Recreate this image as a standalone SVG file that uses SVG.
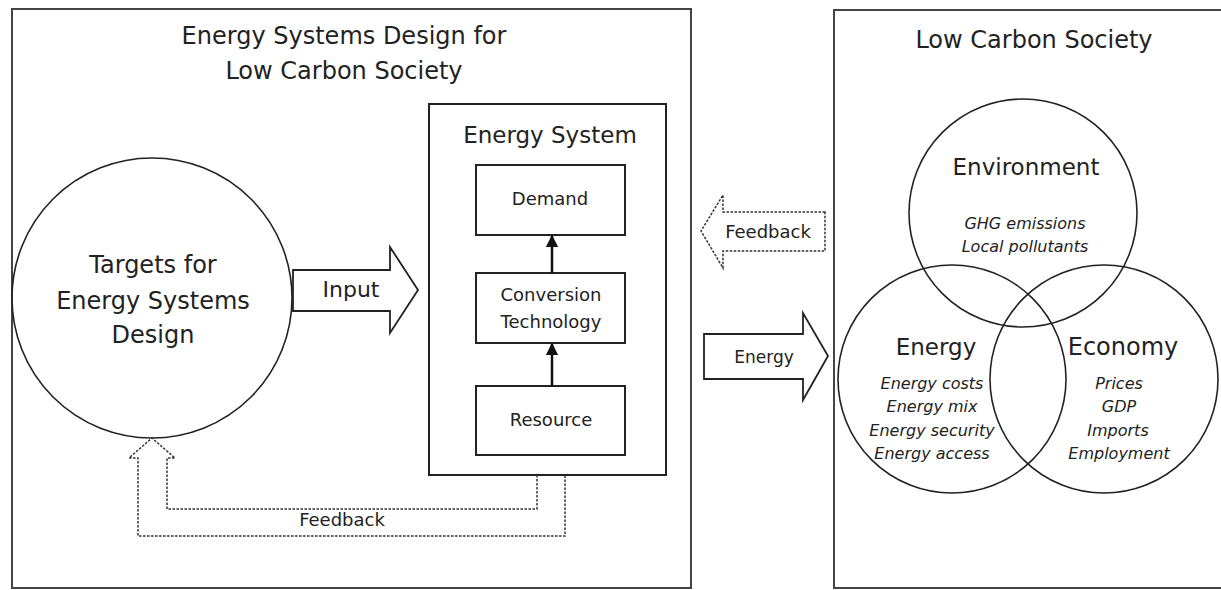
<svg xmlns="http://www.w3.org/2000/svg" width="1221" height="590" viewBox="0 0 1221 590">
<style>
  text { font-family: "DejaVu Sans", "Liberation Sans", sans-serif; fill: #222; text-anchor: middle; }
  .panel { fill: none; stroke: #444; stroke-width: 2; }
  .box { fill: #fff; stroke: #222; stroke-width: 2; }
  .circ { fill: none; stroke: #222; stroke-width: 1.6; }
  .big { font-size: 24px; }
  .title { font-size: 24px; }
  .lbl { font-size: 18px; }
  .it { font-size: 16px; font-style: italic; }
  .blk { fill: #fff; stroke: #222; stroke-width: 1.8; stroke-linejoin: miter; }
  .dash { fill: none; stroke: #333; stroke-width: 1.5; stroke-dasharray: 2.5 1.5; }
  .conn { stroke: #111; stroke-width: 2.5; fill: none; }
</style>
<defs>
  <marker id="ah" viewBox="0 0 10 10" refX="9" refY="5" markerWidth="5" markerHeight="5" orient="auto" markerUnits="strokeWidth">
    <path d="M0,0 L10,5 L0,10 Z" fill="#111"/>
  </marker>
</defs>
<rect width="1221" height="590" fill="#fff"/>

<g id="left-panel">
  <rect class="panel" x="12" y="9" width="679" height="579"/>
  <text class="title" x="344" y="44">Energy Systems Design for</text>
  <text class="title" x="344" y="79">Low Carbon Society</text>
</g>

<g id="right-panel">
  <rect class="panel" x="834" y="10" width="400" height="578"/>
  <text class="title" x="1034" y="48">Low Carbon Society</text>
</g>

<g id="targets">
  <circle class="circ" cx="152" cy="298" r="140"/>
  <text class="big" x="153" y="273">Targets for</text>
  <text class="big" x="153" y="309">Energy Systems</text>
  <text class="big" x="153" y="343">Design</text>
</g>

<g id="energy-system">
  <rect class="box" x="429" y="104" width="237" height="371"/>
  <text class="big" x="550" y="143" style="font-size:23px">Energy System</text>
</g>

<g id="demand">
  <rect class="box" x="476" y="165" width="149" height="70"/>
  <text class="lbl" x="550" y="205">Demand</text>
</g>

<g id="conversion">
  <rect class="box" x="476" y="273" width="149" height="70"/>
  <text class="lbl" x="551" y="301">Conversion</text>
  <text class="lbl" x="551" y="328">Technology</text>
</g>

<g id="resource">
  <rect class="box" x="476" y="386" width="149" height="69"/>
  <text class="lbl" x="551" y="426">Resource</text>
</g>

<g id="environment">
  <circle class="circ" cx="1023" cy="213" r="114"/>
  <text class="big" x="1026" y="175" style="font-size:23px">Environment</text>
  <text class="it" x="1025" y="229">GHG emissions</text>
  <text class="it" x="1025" y="252">Local pollutants</text>
</g>

<g id="energy">
  <circle class="circ" cx="952" cy="379" r="114"/>
  <text class="big" x="936" y="355" style="font-size:23px">Energy</text>
  <text class="it" x="932" y="389">Energy costs</text>
  <text class="it" x="932" y="412">Energy mix</text>
  <text class="it" x="932" y="436">Energy security</text>
  <text class="it" x="932" y="459">Energy access</text>
</g>

<g id="economy">
  <circle class="circ" cx="1104" cy="379" r="114"/>
  <text class="big" x="1123" y="355">Economy</text>
  <text class="it" x="1119" y="389">Prices</text>
  <text class="it" x="1119" y="412">GDP</text>
  <text class="it" x="1118" y="436">Imports</text>
  <text class="it" x="1119" y="459">Employment</text>
</g>

<g id="connectors">
  <line class="conn" x1="552" y1="273" x2="552" y2="236" marker-end="url(#ah)"/>
  <line class="conn" x1="552" y1="386" x2="552" y2="344" marker-end="url(#ah)"/>

  <g id="input-arrow">
    <path class="blk" d="M293,270 L390,270 L390,247 L418,290 L390,333 L390,311 L293,311 Z"/>
    <text x="351" y="297" style="font-size:22px">Input</text>
  </g>

  <g id="energy-arrow">
    <path class="blk" d="M704,334 L803,334 L803,313 L828,356 L803,400 L803,379 L704,379 Z"/>
    <text x="764" y="363" style="font-size:17px">Energy</text>
  </g>

  <g id="feedback-right">
    <path class="dash" d="M825,212 L723,212 L723,195 L701,231 L723,268 L723,251 L825,251 Z"/>
    <text x="768" y="238" style="font-size:18px">Feedback</text>
  </g>

  <g id="feedback-bottom">
    <path class="dash" d="M537,475 L537,509 L167,509 L167,458 L175,458 L152,438 L129,458 L138,458 L138,536 L565,536 L565,475"/>
    <text class="lbl" x="342" y="526">Feedback</text>
  </g>
</g>
</svg>
